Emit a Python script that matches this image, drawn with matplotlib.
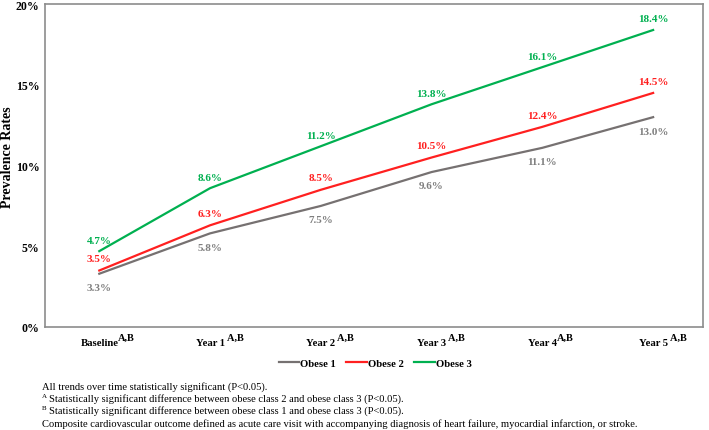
import matplotlib.pyplot as plt

# data
periods = ['Baseline', 'Year 1', 'Year 2', 'Year 3', 'Year 4', 'Year 5']
sup_gap = ['', ' ', ' ', ' ', '', ' ']
obese1 = [3.3, 5.8, 7.5, 9.6, 11.1, 13.0]
obese2 = [3.5, 6.3, 8.5, 10.5, 12.4, 14.5]
obese3 = [4.7, 8.6, 11.2, 13.8, 16.1, 18.4]
yticks = [0, 5, 10, 15, 20]

plt.rcParams['font.family'] = ['Liberation Serif', 'DejaVu Serif']

fig = plt.figure(figsize=(7.09, 4.31), dpi=100)
ax = fig.add_axes([0.0635, 0.239, 0.928, 0.749])

gray = '#767171'
red = '#ff2020'
green = '#00b050'
x = list(range(len(periods)))

ax.plot(x, obese1, color=gray, lw=1.6, label='Obese 1')
ax.plot(x, obese2, color=red, lw=1.6, label='Obese 2')
ax.plot(x, obese3, color=green, lw=1.6, label='Obese 3')

# value labels: green and red above, gray below
for i in x:
    ax.annotate(f'{obese3[i]:.1f}%', (i, obese3[i]), xytext=(0, 8), textcoords='offset points',
                ha='center', va='center', color=green, fontsize=8, fontweight='bold')
    ax.annotate(f'{obese2[i]:.1f}%', (i, obese2[i]), xytext=(0, 8.5), textcoords='offset points',
                ha='center', va='center', color=red, fontsize=8, fontweight='bold')
    ax.annotate(f'{obese1[i]:.1f}%', (i, obese1[i]), xytext=(0, -10), textcoords='offset points',
                ha='center', va='center', color='#7f7f7f', fontsize=8, fontweight='bold')

ax.set_xlim(-0.49, 5.45)
ax.set_ylim(0, 20)
ax.set_yticks(yticks)
ax.set_yticklabels([f'{v}%' for v in yticks], fontsize=8.5, fontweight='bold')
ax.set_xticks(x)
ax.set_xticklabels(periods, fontsize=7.7, fontweight='bold')
ax.tick_params(length=0, pad=8)
ax.tick_params(axis='y', pad=4)
for s in ax.spines.values():
    s.set_color('#8c8c8c')
    s.set_linewidth(1.2)
ax.set_ylabel('Prevalence Rates', fontsize=10, fontweight='bold', va='center')
ax.yaxis.set_label_coords(-0.057, 0.53)

# superscript A,B after each tick label
fig.canvas.draw()
for lab, gap in zip(ax.get_xticklabels(), sup_gap):
    ax.annotate(gap + 'A,B', xy=(1, 0.6), xycoords=lab, ha='left', va='bottom',
                fontsize=7.5, fontweight='bold')

fig.legend(loc='center', bbox_to_anchor=(0.529, 0.155), ncol=3, frameon=False,
           prop={'weight': 'bold', 'size': 7.7}, handlelength=1.9, handletextpad=0.1,
           columnspacing=1.0)

fs = 7.55
fig.text(42 / 709, 1 - 387 / 431, 'All trends over time statistically significant (P<0.05).',
         fontsize=fs, va='center')
fig.text(42 / 709, 1 - 397 / 431, 'A', fontsize=5, va='center')
fig.text(49 / 709, 1 - 399 / 431,
         'Statistically significant difference between obese class 2 and obese class 3 (P<0.05).',
         fontsize=fs, va='center')
fig.text(42 / 709, 1 - 409 / 431, 'B', fontsize=5, va='center')
fig.text(49 / 709, 1 - 411.5 / 431,
         'Statistically significant difference between obese class 1 and obese class 3 (P<0.05).',
         fontsize=fs, va='center')
fig.text(42 / 709, 1 - 424 / 431,
         'Composite cardiovascular outcome defined as acute care visit with accompanying diagnosis of heart failure, myocardial infarction, or stroke.',
         fontsize=fs, va='center')

fig.savefig('out.png', dpi=100)
